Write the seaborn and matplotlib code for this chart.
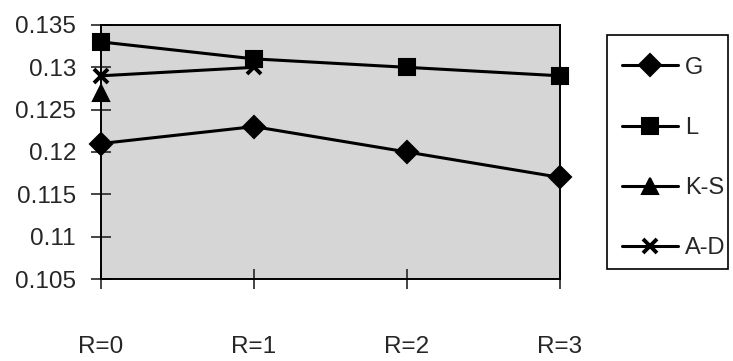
import numpy as np
import pandas as pd
import matplotlib
matplotlib.use("Agg")
import matplotlib.pyplot as plt
from matplotlib.patches import Rectangle
import seaborn as sns

# Category labels and series values
categories = ["R=0", "R=1", "R=2", "R=3"]
g_vals = [0.121, 0.123, 0.120, 0.117]
l_vals = [0.133, 0.131, 0.130, 0.129]
ks_vals = [0.127, np.nan, np.nan, np.nan]
ad_vals = [0.129, 0.130, np.nan, np.nan]
series_names = ["G", "L", "K-S", "A-D"]
y_ticks = [0.105, 0.11, 0.115, 0.12, 0.125, 0.13, 0.135]
y_tick_labels = ["0.105", "0.11", "0.115", "0.12", "0.125", "0.13", "0.135"]

sns.set_theme(style="white")
plt.rcParams["font.family"] = ["Liberation Sans", "DejaVu Sans"]

rows = []
for name, vals in zip(series_names, [g_vals, l_vals, ks_vals, ad_vals]):
    for cat, v in zip(categories, vals):
        rows.append({"R": cat, "value": v, "series": name})
df = pd.DataFrame(rows).dropna()
df["x"] = df["R"].map({c: i for i, c in enumerate(categories)})

W, H = 733, 361
fig = plt.figure(figsize=(W / 100, H / 100), dpi=100)
ax = fig.add_axes([101 / W, 1 - 279 / H, (560 - 101) / W, (279 - 25) / H])
ax.set_facecolor("#d6d6d6")

markers = {"G": "D", "L": "s", "K-S": "^", "A-D": "X"}
palette = {n: "black" for n in series_names}
sns.lineplot(data=df, x="x", y="value", hue="series", style="series",
             hue_order=series_names, style_order=series_names,
             markers=markers, dashes=False, palette=palette,
             linewidth=2.2, markersize=11, markeredgecolor="black",
             markeredgewidth=1.5, ax=ax, legend=True, zorder=3)


def thin_cross(line):
    # the A-D series uses a stroked cross rather than a filled one
    if line.get_marker() == "X":
        line.set_marker("x")
        line.set_markeredgewidth(2.8)
        line.set_markersize(10)


for line in ax.lines:
    thin_cross(line)
    line.set_clip_on(False)

ax.set_xlim(0, 3)
ax.set_ylim(0.105, 0.135)
ax.set_yticks(y_ticks)
ax.set_yticklabels(y_tick_labels)
ax.set_xticks(range(len(categories)))
ax.set_xticklabels(categories)
ax.set_xlabel("")
ax.set_ylabel("")
ax.tick_params(axis="y", direction="inout", length=14, width=1.2, labelsize=17.5, pad=11, left=True)
ax.tick_params(axis="x", direction="inout", length=14, width=1.2, labelsize=17.5, pad=34, bottom=True)
for s in ax.spines.values():
    s.set_color("black")
    s.set_linewidth(1.4)
    s.set_visible(True)

handles, labels = ax.get_legend_handles_labels()
for h in handles:
    thin_cross(h)
leg = ax.legend(handles, labels, loc="center left",
                bbox_to_anchor=(622 / W, 1 - 158 / H), bbox_transform=fig.transFigure,
                frameon=False, fontsize=17, handlelength=2.37, labelspacing=1.62,
                borderpad=0, borderaxespad=0, handletextpad=0.3)
# legend box
fig.patches.append(Rectangle((607 / W, 1 - 269 / H), (728 - 607) / W, (269 - 35) / H,
                             transform=fig.transFigure, facecolor="none",
                             edgecolor="black", linewidth=1.2, zorder=5))

fig.savefig("out.png", dpi=100)
